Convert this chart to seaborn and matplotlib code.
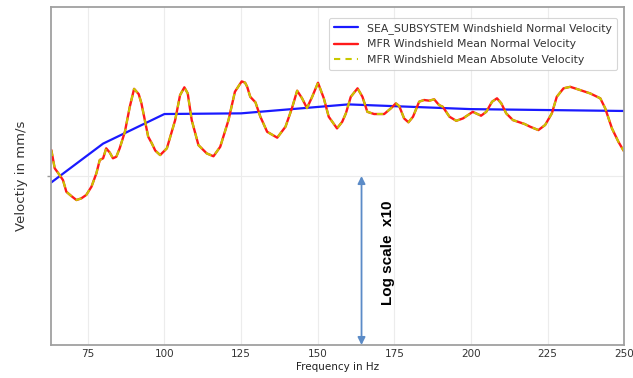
import numpy as np
import pandas as pd
import matplotlib
matplotlib.use("Agg")
import matplotlib.pyplot as plt
import seaborn as sns

sea_freq = [63, 80, 100, 125, 160, 200, 250]
sea_log10 = [-0.039, 0.192, 0.367, 0.371, 0.424, 0.396, 0.385]

mfr_freq = [63.1, 64.2, 65.8, 66.9, 68.0, 69.6, 71.3, 72.9, 74.5, 76.2,
            77.8, 78.9, 80.0, 81.0, 82.2, 83.2, 84.3, 85.4, 87.1, 88.7,
            90.1, 91.6, 92.5, 93.6, 94.7, 95.9, 97.0, 98.6, 100.8, 103.5,
            105.1, 106.5, 107.6, 108.9, 111.1, 113.8, 116.0, 118.2, 120.9, 123.0,
            125.2, 126.3, 127.0, 128.0, 129.7, 131.3, 133.5, 136.8, 139.5, 141.6,
            143.3, 144.9, 146.5, 148.2, 150.1, 152.0, 153.6, 156.3, 158.0, 159.2,
            160.8, 163.0, 164.6, 166.2, 168.4, 171.7, 173.9, 175.5, 176.6, 178.2,
            179.6, 181.1, 183.1, 184.7, 186.4, 188.0, 189.6, 190.8, 193.0, 195.2,
            197.4, 200.6, 203.3, 205.0, 206.9, 208.5, 209.9, 211.5, 213.7, 217.5,
            219.3, 222.0, 224.2, 226.4, 228.0, 230.2, 232.4, 235.6, 238.9, 242.2,
            243.8, 246.0, 248.1, 249.8, 250.0]
mfr_normal_log10 = [0.154, 0.046, 0.006, -0.024, -0.093, -0.118, -0.142, -0.132, -0.112, -0.063,
                    0.016, 0.095, 0.105, 0.164, 0.138, 0.105, 0.114, 0.164, 0.262, 0.410,
                    0.516, 0.485, 0.430, 0.331, 0.233, 0.193, 0.151, 0.124, 0.164, 0.331,
                    0.479, 0.525, 0.489, 0.331, 0.183, 0.134, 0.117, 0.173, 0.331, 0.499,
                    0.560, 0.553, 0.528, 0.469, 0.436, 0.351, 0.262, 0.227, 0.292, 0.401,
                    0.505, 0.460, 0.402, 0.469, 0.552, 0.460, 0.351, 0.282, 0.321, 0.371,
                    0.469, 0.519, 0.469, 0.380, 0.367, 0.367, 0.401, 0.430, 0.414, 0.341,
                    0.318, 0.351, 0.440, 0.450, 0.446, 0.454, 0.420, 0.410, 0.351, 0.327,
                    0.341, 0.380, 0.357, 0.380, 0.440, 0.460, 0.430, 0.371, 0.331, 0.308,
                    0.292, 0.272, 0.302, 0.371, 0.469, 0.519, 0.528, 0.509, 0.489, 0.460,
                    0.401, 0.282, 0.203, 0.150, 0.148]
mfr_absolute_log10 = list(mfr_normal_log10)

x_ticks = [75, 100, 125, 150, 175, 200, 225, 250]

sea_vel = 10 ** np.array(sea_log10)
mfr_normal = 10 ** np.array(mfr_normal_log10)
mfr_absolute = 10 ** np.array(mfr_absolute_log10)

df_sea = pd.DataFrame({"f": sea_freq, "v": sea_vel})
df_mfr = pd.DataFrame({"f": mfr_freq, "n": mfr_normal, "a": mfr_absolute})

# ---- style ----
sns.set_style("whitegrid")
plt.rcParams["font.family"] = ["DejaVu Sans"]

fig = plt.figure(figsize=(6.33, 3.78), dpi=100)
ax = fig.add_axes([0.0806, 0.0873, 0.9055, 0.894])

sns.lineplot(data=df_sea, x="f", y="v", ax=ax, color="#1a1aff", lw=1.6,
             label="SEA_SUBSYSTEM Windshield Normal Velocity")
sns.lineplot(data=df_mfr, x="f", y="n", ax=ax, color="#ff1a1a", lw=1.7,
             label="MFR Windshield Mean Normal Velocity")
sns.lineplot(data=df_mfr, x="f", y="a", ax=ax, color="#c8c800", lw=1.5,
             linestyle=(0, (3, 2.5)),
             label="MFR Windshield Mean Absolute Velocity")

ax.set_yscale("log")
ax.set_ylim(0.1, 10)
ax.set_xlim(63, 250)
ax.set_xticks(x_ticks)
ax.set_xticklabels([str(t) for t in x_ticks], fontsize=7.5, color="#333333")
ax.set_yticks([1])
ax.set_yticklabels([""])
ax.yaxis.set_minor_locator(matplotlib.ticker.NullLocator())
ax.tick_params(axis="y", which="major", length=3, color="#999999", width=1, left=True)
ax.tick_params(axis="x", which="major", length=0, pad=3)

ax.grid(True, color="#ececec", lw=0.8)
for s in ax.spines.values():
    s.set_color("#a0a0a0")
    s.set_linewidth(1.3)

ax.set_xlabel("Frequency in Hz", fontsize=7.5, color="#222222", labelpad=2)
ax.set_ylabel("Veloctiy in mm/s", fontsize=9.5, color="#333333", labelpad=10)

leg = ax.legend(loc="upper right", fontsize=7.8, frameon=True, handlelength=2.2,
                borderpad=0.5, labelspacing=0.5, fancybox=True,
                bbox_to_anchor=(0.997, 0.985))
leg.get_frame().set_edgecolor("#cccccc")
leg.get_frame().set_linewidth(0.8)
for t in leg.get_texts():
    t.set_color("#333333")

# arrow showing one decade
ax.annotate("", xy=(164.3, 0.1), xytext=(164.3, 1.0),
            arrowprops=dict(arrowstyle="<|-|>", color="#5b8bc7", lw=1.3,
                            mutation_scale=11, shrinkA=0, shrinkB=0))
ax.text(173.0, 0.35, "Log scale  x10", rotation=90, ha="center", va="center",
        fontsize=11, fontweight="bold", family=["Liberation Sans Narrow", "Liberation Sans"],
        color="black")

fig.savefig("out.png", dpi=100)
